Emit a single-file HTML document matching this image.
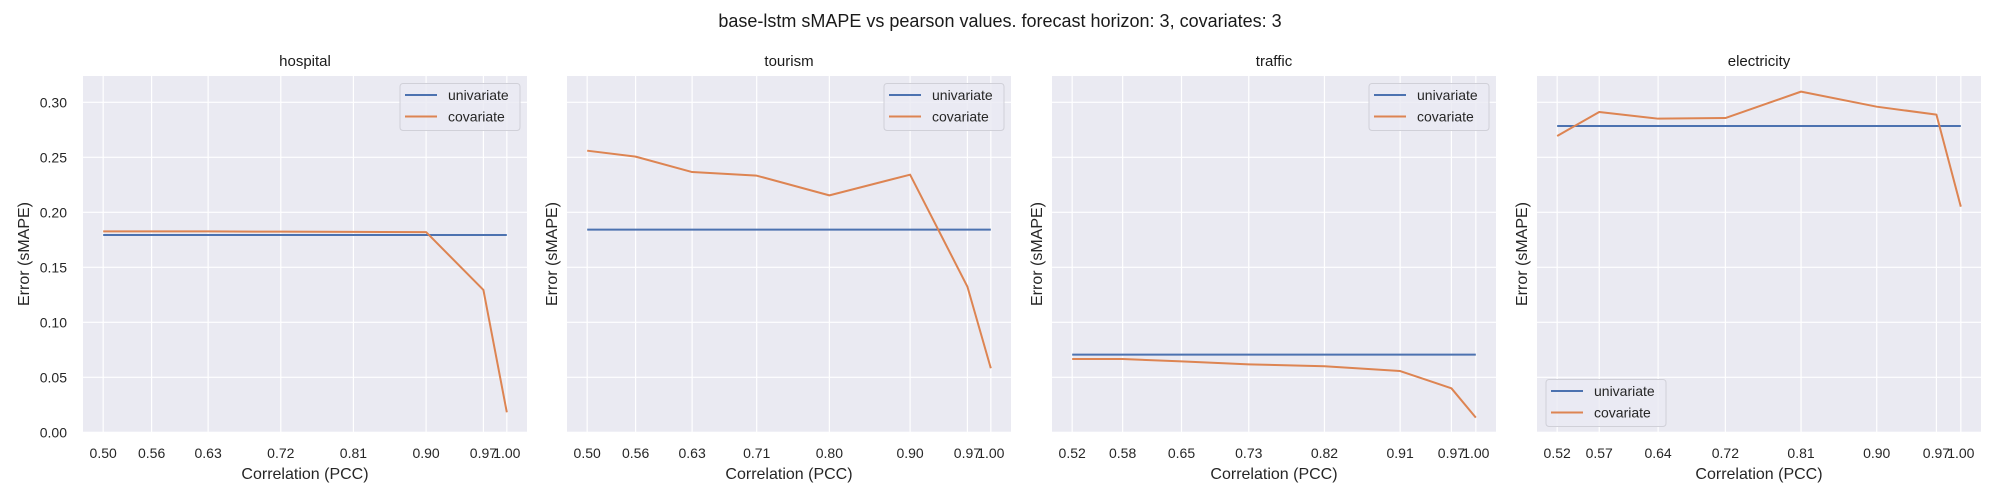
<!DOCTYPE html>
<html><head><meta charset="utf-8"><style>
html,body{margin:0;padding:0;background:#fff;}
svg{display:block;font-family:"Liberation Sans","DejaVu Sans",sans-serif;}
</style></head><body>
<svg id="chart" width="2000" height="500" viewBox="0 0 2000 500" xmlns="http://www.w3.org/2000/svg">
<text x="1000" y="27" font-size="18" text-anchor="middle" fill="#1a1a1a">base-lstm  sMAPE vs pearson values. forecast horizon: 3, covariates: 3</text>
</svg>
<script>
const panelNames = ["hospital","tourism","traffic","electricity"];
const xHospital = [0.50,0.56,0.63,0.72,0.81,0.90,0.971,1.00];
const xTourism = [0.50,0.56,0.63,0.71,0.80,0.90,0.971,1.00];
const xTraffic = [0.52,0.58,0.65,0.73,0.82,0.91,0.971,1.00];
const xElectricity = [0.52,0.57,0.64,0.72,0.81,0.90,0.971,1.00];
const tickHospital = ["0.50","0.56","0.63","0.72","0.81","0.90","0.97","1.00"];
const tickTourism = ["0.50","0.56","0.63","0.71","0.80","0.90","0.97","1.00"];
const tickTraffic = ["0.52","0.58","0.65","0.73","0.82","0.91","0.97","1.00"];
const tickElectricity = ["0.52","0.57","0.64","0.72","0.81","0.90","0.97","1.00"];
const uniHospital = 0.1794, uniTourism = 0.1842, uniTraffic = 0.0706, uniElectricity = 0.2785;
const covHospital = [0.1827,0.1827,0.1826,0.1824,0.1822,0.1820,0.1294,0.0182];
const covTourism = [0.256,0.2506,0.2366,0.2333,0.2154,0.2342,0.1324,0.0582];
const covTraffic = [0.0666,0.0666,0.0645,0.0618,0.0600,0.0557,0.0400,0.0133];
const covElectricity = [0.2694,0.2912,0.2851,0.2857,0.3097,0.2960,0.2888,0.2051];
const yTicks = [0,0.05,0.10,0.15,0.20,0.25,0.30];
const yTickLabels = ["0.00","0.05","0.10","0.15","0.20","0.25","0.30"];

const NS="http://www.w3.org/2000/svg";
const svg=document.getElementById('chart');
function mk(tag,attrs,parent){const e=document.createElementNS(NS,tag);for(const k in attrs)e.setAttribute(k,attrs[k]);(parent||svg).appendChild(e);return e;}
const lefts=[83,567,1052,1537], W=444, TOP=76, BOT=432.3;
const yMin=0, yMax=0.3239;
function yScale(v){return BOT-(v-yMin)/(yMax-yMin)*(BOT-TOP);}
const xs=[xHospital,xTourism,xTraffic,xElectricity];
const ticks=[tickHospital,tickTourism,tickTraffic,tickElectricity];
const unis=[uniHospital,uniTourism,uniTraffic,uniElectricity];
const covs=[covHospital,covTourism,covTraffic,covElectricity];
const BLUE="#4c72b0", ORANGE="#dd8452";
for(let p=0;p<4;p++){
  const L=lefts[p], xd=xs[p];
  const mn=Math.min(...xd), mx=Math.max(...xd), pad=(mx-mn)*0.05;
  const xScale=v=>L+(v-(mn-pad))/((mx+pad)-(mn-pad))*W;
  const g=mk('g',{});
  
  
  const bg=mk('rect',{x:L,y:TOP,width:W,height:BOT-TOP,fill:'#eaeaf2'},g);
  
  
  yTicks.forEach((t,i)=>{
    const gl=mk('line',{x1:L,x2:L+W,y1:yScale(t),y2:yScale(t),stroke:'#fff','stroke-width':1.2},g);
    
    
    if(p===0){
      const tl=mk('text',{x:L-16,y:yScale(t)+5,'font-size':14,'text-anchor':'end',fill:'#262626'},g);
      tl.textContent=yTickLabels[i];
      
      
    }
  });
  xd.forEach((v,i)=>{
    const gl=mk('line',{x1:xScale(v),x2:xScale(v),y1:TOP,y2:BOT,stroke:'#fff','stroke-width':1.2},g);
    
    
    const tl=mk('text',{x:xScale(v),y:458,'font-size':14,'text-anchor':'middle',fill:'#262626'},g);
    tl.textContent=ticks[p][i];
    
    
  });
  const title=mk('text',{x:L+W/2,y:66,'font-size':15,'text-anchor':'middle',fill:'#1a1a1a'},g);
  title.textContent=panelNames[p];
  
  
  const xl=mk('text',{x:L+W/2,y:479,'font-size':16,'text-anchor':'middle',fill:'#262626'},g);
  xl.textContent='Correlation (PCC)';
  
  
  const ylx=(p===0)?L-54:L-10;
  const yl=mk('text',{x:ylx,y:254,'font-size':16,'text-anchor':'middle',fill:'#262626',transform:`rotate(-90 ${ylx} 254)`},g);
  yl.textContent='Error (sMAPE)';
  
  
  const uni=mk('line',{x1:xScale(xd[0]),x2:xScale(xd[xd.length-1]),y1:yScale(unis[p]),y2:yScale(unis[p]),stroke:BLUE,'stroke-width':2},g);
  
  
  const cov=mk('polyline',{points:xd.map((v,i)=>xScale(v)+','+yScale(covs[p][i])).join(' '),fill:'none',stroke:ORANGE,'stroke-width':2,'stroke-linejoin':'round'},g);
  
  
  let lx,ly;
  if(p===3){lx=L+9;ly=379.5;}else{lx=L+W-127;ly=83.5;}
  const lg=mk('g',{},g);
  
  
  mk('rect',{x:lx,y:ly,width:120,height:47,rx:3,fill:'#eaeaf2','fill-opacity':0.8,stroke:'#d0d0d8','stroke-width':1},lg);
  const e1=mk('g',{},lg);
  
  
  mk('line',{x1:lx+5,x2:lx+37,y1:ly+11.5,y2:ly+11.5,stroke:BLUE,'stroke-width':2},e1);
  const t1=mk('text',{x:lx+48,y:ly+16.5,'font-size':14,fill:'#262626'},e1);t1.textContent='univariate';
  const e2=mk('g',{},lg);
  
  
  mk('line',{x1:lx+5,x2:lx+37,y1:ly+33,y2:ly+33,stroke:ORANGE,'stroke-width':2},e2);
  const t2=mk('text',{x:lx+48,y:ly+38,'font-size':14,fill:'#262626'},e2);t2.textContent='covariate';
}
</script>
</body></html>
